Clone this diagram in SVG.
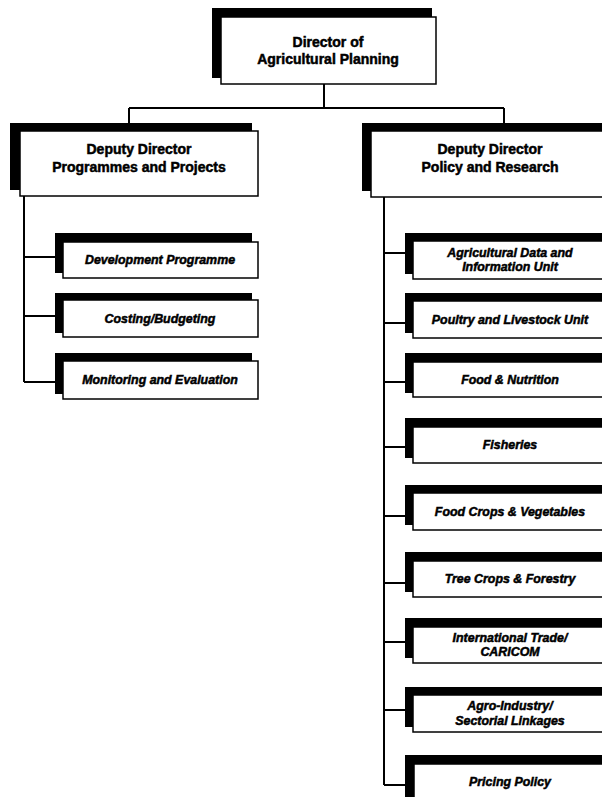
<svg xmlns="http://www.w3.org/2000/svg" width="602" height="797" viewBox="0 0 602 797">
<style>
.sh{fill:#000}
.bx{fill:#fff;stroke:#000;stroke-width:1.5}
.t1{font-family:"Liberation Sans",Arial,sans-serif;font-weight:bold;font-size:14px;text-anchor:middle;fill:#000;stroke:#000;stroke-width:0.5}
.t2{font-family:"Liberation Sans",Arial,sans-serif;font-weight:bold;font-style:italic;font-size:12.4px;text-anchor:middle;fill:#000;stroke:#000;stroke-width:0.5}
.cn{fill:none;stroke:#000;stroke-width:2}
</style>
<rect width="602" height="797" fill="#fff"/>
<g id="connectors">
<path class="cn" d="M324 84V108M129 108H504M129 108V123M504 108V123"/>
<path class="cn" d="M24 196V382M24 257H55M24 316H55M24 382H55"/>
<path class="cn" d="M384 197V785M384 253H405M384 323H405M384 382H405M384 447H405M384 516H405M384 583H405M384 642H405M384 710H405M384 785H405"/>
</g>
<g id="director">
<rect class="sh" x="212" y="8" width="220" height="70"/>
<rect class="bx" x="221" y="17" width="215" height="67"/>
<text class="t1" x="328" y="47">Director of</text>
<text class="t1" x="328" y="64">Agricultural Planning</text>
</g>
<g id="deputy-programmes">
<rect class="sh" x="10" y="123" width="242" height="67"/>
<rect class="bx" x="20" y="131" width="238" height="65"/>
<text class="t1" x="139" y="154">Deputy Director</text>
<text class="t1" x="139" y="172">Programmes and Projects</text>
</g>
<g id="deputy-policy">
<rect class="sh" x="362" y="123" width="245" height="68"/>
<rect class="bx" x="371" y="131" width="240" height="66"/>
<text class="t1" x="490" y="154">Deputy Director</text>
<text class="t1" x="490" y="172">Policy and Research</text>
</g>
<g id="development">
<rect class="sh" x="55" y="233" width="197" height="40"/>
<rect class="bx" x="63" y="242" width="195" height="36"/>
<text class="t2" x="160" y="264">Development Programme</text>
</g>
<g id="costing">
<rect class="sh" x="55" y="293" width="197" height="40"/>
<rect class="bx" x="63" y="300" width="195" height="37"/>
<text class="t2" x="160" y="323">Costing/Budgeting</text>
</g>
<g id="monitoring">
<rect class="sh" x="55" y="353" width="197" height="41"/>
<rect class="bx" x="63" y="361" width="195" height="38"/>
<text class="t2" x="160" y="384">Monitoring and Evaluation</text>
</g>
<g id="agri-data">
<rect class="sh" x="405" y="233" width="200" height="41"/>
<rect class="bx" x="413" y="241" width="195" height="38"/>
<text class="t2" x="510" y="257">Agricultural Data and</text>
<text class="t2" x="510" y="271">Information Unit</text>
</g>
<g id="poultry">
<rect class="sh" x="405" y="293" width="200" height="40"/>
<rect class="bx" x="413" y="301" width="195" height="37"/>
<text class="t2" x="510" y="324">Poultry and Livestock Unit</text>
</g>
<g id="food-nutrition">
<rect class="sh" x="405" y="353" width="200" height="40"/>
<rect class="bx" x="413" y="362" width="195" height="35"/>
<text class="t2" x="510" y="384">Food &amp; Nutrition</text>
</g>
<g id="fisheries">
<rect class="sh" x="405" y="418" width="200" height="40"/>
<rect class="bx" x="413" y="427" width="195" height="36"/>
<text class="t2" x="510" y="449">Fisheries</text>
</g>
<g id="food-crops">
<rect class="sh" x="405" y="485" width="200" height="40"/>
<rect class="bx" x="413" y="493" width="195" height="37"/>
<text class="t2" x="510" y="516">Food Crops &amp; Vegetables</text>
</g>
<g id="tree-crops">
<rect class="sh" x="405" y="552" width="200" height="40"/>
<rect class="bx" x="413" y="561" width="195" height="36"/>
<text class="t2" x="510" y="583">Tree Crops &amp; Forestry</text>
</g>
<g id="trade">
<rect class="sh" x="405" y="618" width="200" height="40"/>
<rect class="bx" x="413" y="627" width="195" height="36"/>
<text class="t2" x="510" y="642">International Trade/</text>
<text class="t2" x="510" y="656">CARICOM</text>
</g>
<g id="agro-industry">
<rect class="sh" x="405" y="687" width="200" height="40"/>
<rect class="bx" x="413" y="695" width="195" height="37"/>
<text class="t2" x="510" y="710">Agro-Industry/</text>
<text class="t2" x="510" y="725">Sectorial Linkages</text>
</g>
<g id="pricing">
<rect class="sh" x="405" y="755" width="200" height="50"/>
<rect class="bx" x="414" y="764" width="195" height="40"/>
<text class="t2" x="510" y="786">Pricing Policy</text>
</g>
</svg>
